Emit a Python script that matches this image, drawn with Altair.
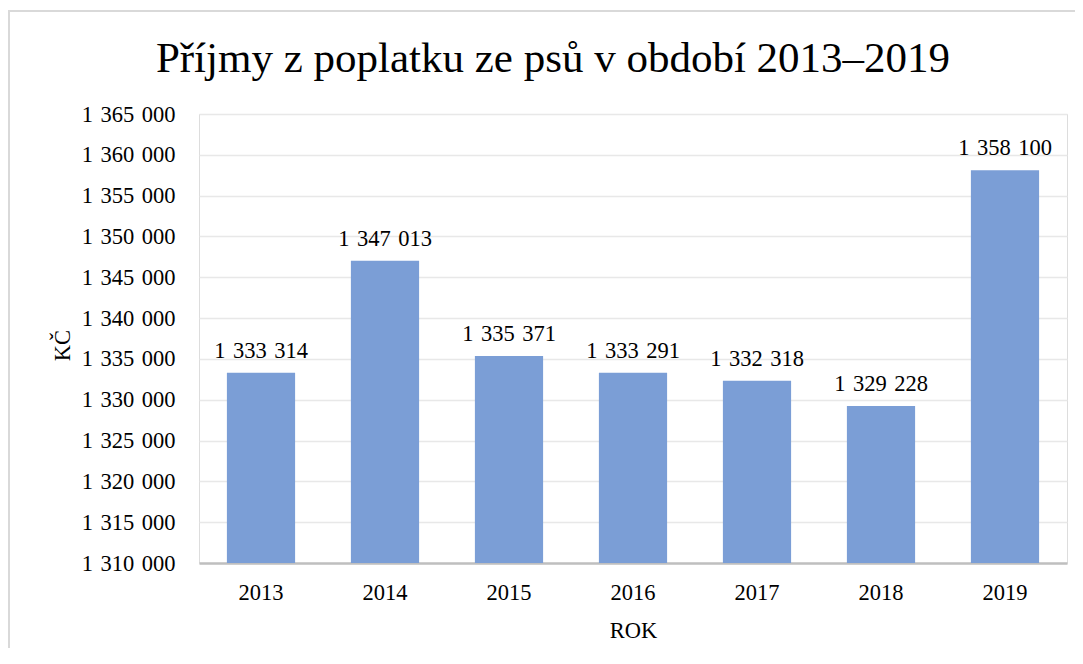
import altair as alt
import pandas as pd

years = ["2013", "2014", "2015", "2016", "2017", "2018", "2019"]
values = [1333314, 1347013, 1335371, 1333291, 1332318, 1329228, 1358100]
y_ticks = [1310000, 1315000, 1320000, 1325000, 1330000, 1335000, 1340000,
           1345000, 1350000, 1355000, 1360000, 1365000]

df = pd.DataFrame({"rok": years, "kc": values})
FONT = "Liberation Serif, Times New Roman, serif"
FS = 22.5

base = alt.Chart(df)

bars = base.mark_bar(color="#7B9ED6", clip=True).encode(
    x=alt.X("rok:N", sort=years,
            scale=alt.Scale(paddingInner=0.45, paddingOuter=0.225),
            axis=alt.Axis(title="ROK", labelAngle=0, ticks=False, tickSize=0,
                          labelPadding=18, labelFontSize=FS, labelFont=FONT,
                          labelColor="#000000", titleFont=FONT, titleFontSize=FS,
                          titleFontWeight="normal", titleColor="#000000",
                          titleY=67, titleBaseline="middle",
                          domainColor="#BFBFBF", domainWidth=2.5, grid=False)),
    y=alt.Y("kc:Q",
            scale=alt.Scale(domain=[1310000, 1365000], zero=False, nice=False),
            axis=alt.Axis(title="KČ", values=y_ticks, format=",d", ticks=False,
                          tickSize=0, domain=False, labelPadding=24,
                          labelFontSize=FS, labelFont=FONT, labelColor="#000000",
                          titleFont=FONT, titleFontSize=FS, titleFontWeight="normal",
                          titleColor="#000000", titleX=-137, titleY=231,
                          titleAngle=-90, titleBaseline="middle",
                          gridColor="#E8E8E8", gridWidth=1.5)),
)

labels = base.mark_text(font=FONT, fontSize=FS, color="#000000",
                        baseline="alphabetic", dy=-15).encode(
    x=alt.X("rok:N", sort=years),
    y="kc:Q",
    text=alt.Text("kc:Q", format=",d"),
)

frame = alt.Chart(pd.DataFrame({"f": [0]})).mark_rect(
    filled=False, stroke="#D9D9D9", strokeWidth=2
).encode(
    x=alt.value(-190), x2=alt.value(1000),
    y=alt.value(-103), y2=alt.value(800),
)

chart = alt.layer(frame, bars, labels).properties(
    width=868,
    height=449,
    padding={"left": 191, "top": 106, "right": 8, "bottom": 85},
    autosize=alt.AutoSizeParams(type="none"),
    title=alt.TitleParams("Příjmy z poplatku ze psů v období 2013–2019",
                          font=FONT, fontSize=43, fontWeight="normal",
                          color="#000000", anchor="middle", dx=-80, offset=-71),
).configure_view(stroke=None).configure(background="#FFFFFF")

chart.save("out.html", embed_options={
    "renderer": "svg", "actions": False,
    "formatLocale": {"decimal": ",", "thousands": "\u2004", "grouping": [3],
                     "currency": ["", " Kč"]},
})
